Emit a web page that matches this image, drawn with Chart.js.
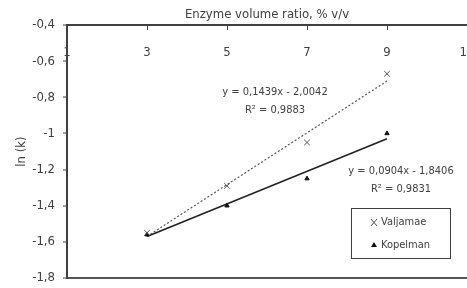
<!DOCTYPE html>
<html>
<head>
<meta charset="utf-8">
<script src="https://cdn.jsdelivr.net/npm/chart.js@4"></script>
<style>
  body { margin: 0; background: #fff; }
  #wrap { width: 467px; height: 288px; }
</style>
</head>
<body>
<div id="wrap"><canvas id="myChart" width="467" height="288"></canvas></div>
<script>
// data
const xValues = [3, 5, 7, 9];
const valjamae = [-1.55, -1.29, -1.05, -0.67];
const kopelman = [-1.56, -1.40, -1.25, -1.00];
const trendX = [3, 9];
const valjamaeTrend = [-1.57, -0.71];
const kopelmanTrend = [-1.57, -1.03];
const seriesNames = ["Valjamae", "Kopelman"];
const equations = ["y = 0,1439x - 2,0042", "y = 0,0904x - 1,8406"];
const rSquared = ["R² = 0,9883", "R² = 0,9831"];

const ink = "#404040";
const font = "'DejaVu Sans Condensed', 'DejaVu Sans', sans-serif";
const fmt = (v) => String(Number(v.toFixed(1))).replace(".", ",");

const toPoints = (xs, ys) => xs.map((x, i) => ({ x: x, y: ys[i] }));

// keep tick labels from shrinking the plot area
const noOverflow = (s) => {
    s.paddingLeft = s.paddingRight = s.paddingTop = s.paddingBottom = 0;
    if (s._margins) {
        s._margins.left = s._margins.right = s._margins.top = s._margins.bottom = 0;
    }
};

// equations and legend box
const extras = {
    id: "extras",
    afterDraw(chart) {
        const { ctx, scales } = chart;
        const x = scales.x, y = scales.y;
        ctx.save();
        ctx.fillStyle = ink;
        ctx.font = "11px " + font;
        ctx.textAlign = "center";
        ctx.textBaseline = "middle";
        ctx.fillText(equations[0], x.getPixelForValue(6.2), y.getPixelForValue(-0.77));
        ctx.fillText(rSquared[0], x.getPixelForValue(6.2), y.getPixelForValue(-0.87));
        ctx.fillText(equations[1], x.getPixelForValue(9.35), y.getPixelForValue(-1.21));
        ctx.fillText(rSquared[1], x.getPixelForValue(9.35), y.getPixelForValue(-1.31));

        // legend
        ctx.strokeStyle = ink;
        ctx.lineWidth = 1;
        ctx.strokeRect(351.5, 208.5, 99, 50);
        ctx.textAlign = "left";
        const rows = [222, 245];
        rows.forEach((ry, i) => {
            const ds = chart.data.datasets[i];
            ctx.fillText(seriesNames[i], 381, ry);
            ctx.strokeStyle = ds.pointBorderColor;
            ctx.fillStyle = ds.pointBackgroundColor;
            ctx.lineWidth = 1;
            if (i === 0) {
                ctx.beginPath();
                ctx.moveTo(371, ry - 3); ctx.lineTo(377, ry + 4);
                ctx.moveTo(377, ry - 3); ctx.lineTo(371, ry + 4);
                ctx.stroke();
            } else {
                ctx.beginPath();
                ctx.moveTo(374, ry - 3); ctx.lineTo(377, ry + 2); ctx.lineTo(371, ry + 2);
                ctx.closePath();
                ctx.fill();
            }
            ctx.fillStyle = ink;
        });
        ctx.restore();
    },
};

new Chart(document.getElementById("myChart"), {
    type: "scatter",
    data: {
        datasets: [
            {
                label: seriesNames[0],
                data: toPoints(xValues, valjamae),
                pointStyle: "crossRot",
                pointRadius: 4,
                pointBorderWidth: 1,
                pointBorderColor: "#555",
                pointBackgroundColor: "#555",
            },
            {
                label: seriesNames[1],
                data: toPoints(xValues, kopelman),
                pointStyle: "triangle",
                pointRadius: 2.5,
                pointBorderWidth: 1,
                pointBorderColor: "#111",
                pointBackgroundColor: "#111",
            },
            {
                label: "trend 1",
                data: toPoints(trendX, valjamaeTrend),
                showLine: true,
                pointRadius: 0,
                borderColor: "#555",
                borderWidth: 1.2,
                borderDash: [2, 2],
            },
            {
                label: "trend 2",
                data: toPoints(trendX, kopelmanTrend),
                showLine: true,
                pointRadius: 0,
                borderColor: "#222",
                borderWidth: 1.6,
            },
        ],
    },
    options: {
        responsive: false,
        animation: false,
        layout: { autoPadding: false, padding: { left: 0, right: 0, top: 0, bottom: 10 } },
        scales: {
            x: {
                type: "linear",
                position: "top",
                min: 1,
                max: 11,
                afterFit: (s) => { s.height = 25; noOverflow(s); },
                ticks: {
                    stepSize: 2,
                    mirror: true,
                    padding: 20,
                    color: ink,
                    font: { family: font, size: 13 },
                },
                grid: {
                    drawOnChartArea: false,
                    tickLength: -5,
                    color: ink,
                },
                border: { color: ink, width: 2 },
                title: {
                    display: true,
                    text: "Enzyme volume ratio, % v/v",
                    color: ink,
                    font: { family: font, size: 13 },
                    padding: { top: 7, bottom: 0 },
                },
            },
            y: {
                min: -1.8,
                max: -0.4,
                afterFit: (s) => { s.width = 67; noOverflow(s); },
                ticks: {
                    stepSize: 0.2,
                    padding: 8,
                    color: ink,
                    font: { family: font, size: 13 },
                    callback: (v) => fmt(v),
                },
                grid: {
                    tickLength: 4,
                    color: (c) => (c.tick && Math.abs(c.tick.value + 1.8) < 1e-6 ? "#555" : "rgba(0,0,0,0)"),
                    lineWidth: 2,
                    tickColor: ink,
                    tickWidth: 1,
                },
                border: { color: ink, width: 2 },
                title: {
                    display: true,
                    text: "ln (k)",
                    color: ink,
                    font: { family: font, size: 13 },
                    padding: { top: 14, bottom: 0 },
                },
            },
        },
        plugins: {
            legend: { display: false },
            tooltip: { enabled: false },
        },
    },
    plugins: [extras],
});
</script>
</body>
</html>
